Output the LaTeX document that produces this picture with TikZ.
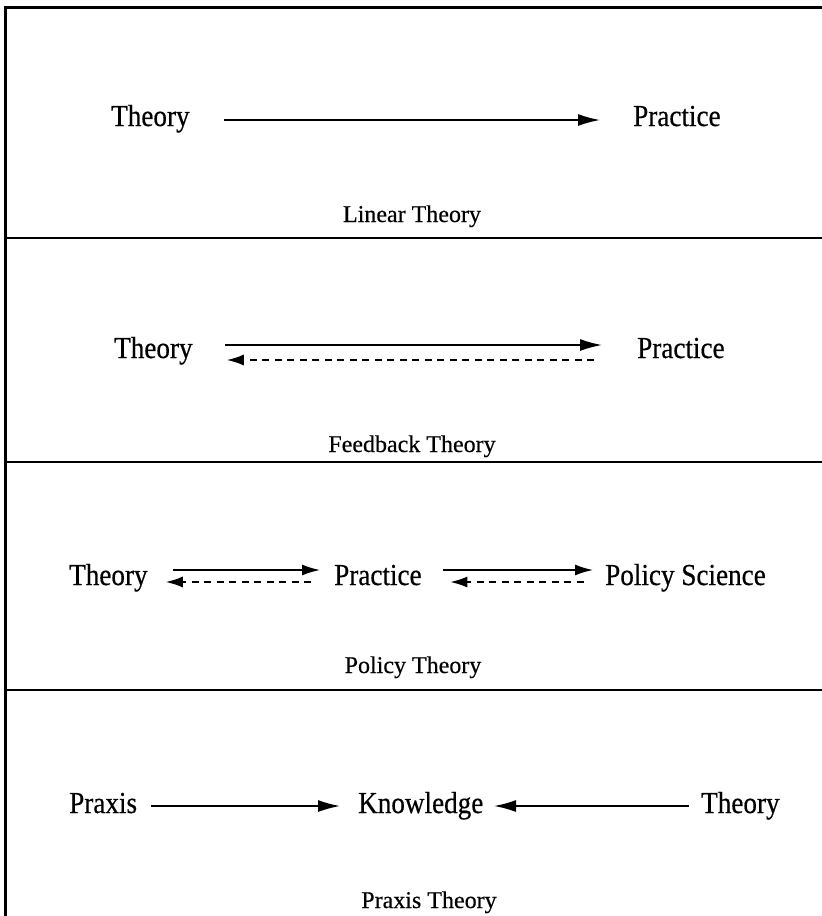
\documentclass[tikz,border=0pt]{standalone}
\usepackage{fontspec}
\setmainfont{Liberation Serif}[FakeBold=0.4]
\newfontfamily\mainf[FakeStretch=0.89,FakeBold=0.5]{Liberation Serif}
\usetikzlibrary{arrows.meta}
\begin{document}
\begin{tikzpicture}[x=1pt,y=-1pt,
  term/.style={inner sep=0pt,anchor=base west,font=\mainf\fontsize{30.5}{36}\selectfont},
  caption/.style={inner sep=0pt,anchor=base,font=\fontsize{24}{28}\selectfont},
  arr/.style={line width=1.6pt,-{Latex[length=22pt,width=12pt]}},
  sarr/.style={line width=1.6pt,-{Latex[length=18pt,width=11pt]}},
  darr/.style={line width=1.6pt,dash pattern=on 7pt off 5.5pt,-{Latex[length=17pt,width=11pt]}},
  frame/.style={line width=3pt},
  divider/.style={line width=2pt}]
\useasboundingbox (0,0) rectangle (822,916);
% frame and dividers
\draw[frame] (5,916) -- (5,7) -- (822,7);
\draw[divider] (5,238) -- (822,238);
\draw[divider] (5,462) -- (822,462);
\draw[divider] (5,690) -- (822,690);
% Panel 1: Linear Theory
\node[term] (t1) at (111,126) {Theory};
\node[term] (p1) at (633,126) {Practice};
\draw[arr] ([xshift=34pt,yshift=6pt]t1.base east) -- ([xshift=-33pt,yshift=6pt]p1.base west);
\node[caption] (l1) at (412,222) {Linear Theory};
% Panel 2: Feedback Theory
\node[term] (t2) at (114,358) {Theory};
\node[term] (p2) at (637,358) {Practice};
\draw[arr] ([xshift=32pt,yshift=13pt]t2.base east) -- ([xshift=-35pt,yshift=13pt]p2.base west);
\draw[darr] ([xshift=-43pt,yshift=-2pt]p2.base west) -- ([xshift=34pt,yshift=-2pt]t2.base east);
\node[caption] (l2) at (412,452) {Feedback Theory};
% Panel 3: Policy Theory
\node[term] (t3) at (69,585) {Theory};
\node[term] (p3) at (334,585) {Practice};
\node[term] (s3) at (605,585) {Policy Science};
\draw[sarr] ([xshift=25pt,yshift=15pt]t3.base east) -- ([xshift=-14pt,yshift=15pt]p3.base west);
\draw[darr] ([xshift=-23pt,yshift=3pt]p3.base west) -- ([xshift=18pt,yshift=3pt]t3.base east);
\draw[sarr] ([xshift=21pt,yshift=15pt]p3.base east) -- ([xshift=-12pt,yshift=15pt]s3.base west);
\draw[darr] ([xshift=-21.5pt,yshift=3pt]s3.base west) -- ([xshift=28.5pt,yshift=3pt]p3.base east);
\node[caption] (l3) at (413,673) {Policy Theory};
% Panel 4: Praxis Theory
\node[term] (x4) at (69,813) {Praxis};
\node[term] (k4) at (358,813) {Knowledge};
\node[term] (t4) at (701,813) {Theory};
\draw[arr] ([xshift=14pt,yshift=7pt]x4.base east) -- ([xshift=-18pt,yshift=7pt]k4.base west);
\draw[arr] ([xshift=-12pt,yshift=7pt]t4.base west) -- ([xshift=10.5pt,yshift=7pt]k4.base east);
\node[caption] (l4) at (429,908) {Praxis Theory};
\end{tikzpicture}
\end{document}
